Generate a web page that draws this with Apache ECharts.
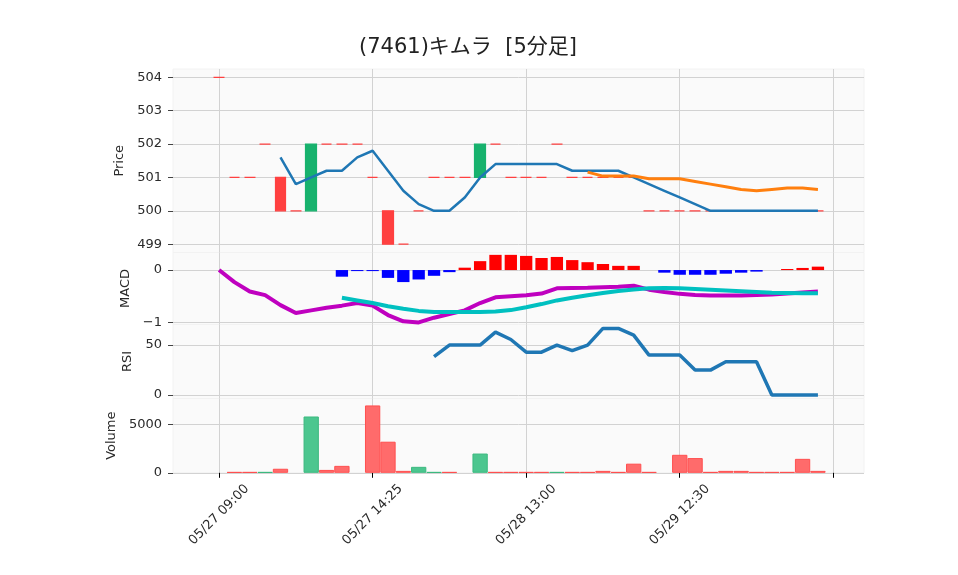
<!DOCTYPE html>
<html>
<head>
<meta charset="utf-8">
<script src="https://cdn.jsdelivr.net/npm/echarts@6/dist/echarts.min.js"></script>
<style>html,body{margin:0;padding:0;background:#fff}#c{width:958px;height:575px}</style>
</head>
<body>
<div id="c"></div>
<script>
// ---------------- data ----------------
const chartTitle = '(7461)キムラ  [5分足]';
const opens  = [504,501,501,502,501,500,500,502,502,502,501,500,499,500,501,501,501,501,502,501,501,501,502,501,501,501,501,501,500,500,500,500,500,500,500,500,500,500,500,500];
const closes = [504,501,501,502,500,500,502,502,502,502,501,499,499,500,501,501,501,502,502,501,501,501,502,501,501,501,501,501,500,500,500,500,500,500,500,500,500,500,500,500];
const highs  = [504,501,501,502,501,500,502,502,502,502,501,500,499,500,501,501,501,502,502,501,501,501,502,501,501,501,501,501,500,500,500,500,500,500,500,500,500,500,500,500];
const lows   = [504,501,501,502,500,500,500,502,502,502,501,499,499,500,501,501,501,501,502,501,501,501,502,501,501,501,501,501,500,500,500,500,500,500,500,500,500,500,500,500];
const volumes = [0,80,80,80,420,0,5850,300,720,0,7000,3230,200,620,80,80,0,2000,80,80,80,80,80,80,80,200,80,950,80,0,1870,1530,80,200,200,80,80,80,1450,200];

// moving averages (start index given)
const sma5Start = 4;
const sma5 = [501.6,500.8,501.0,501.2,501.2,501.6,501.8,501.2,500.6,500.2,500.0,500.0,500.4,501.0,501.4,501.4,501.4,501.4,501.4,501.2,501.2,501.2,501.2,501.0,500.8,500.6,500.4,500.2,500.0,500.0,500.0,500.0,500.0,500.0,500.0,500.0];
const sma25Start = 24;
const sma25 = [501.16,501.04,501.04,501.04,500.96,500.96,500.96,500.88,500.80,500.72,500.64,500.60,500.64,500.68,500.68,500.64];

// MACD
const macdStart = 0;
const macdLine = [0,-0.23,-0.41,-0.48,-0.67,-0.82,-0.77,-0.72,-0.68,-0.63,-0.68,-0.86,-0.98,-1.0,-0.91,-0.84,-0.77,-0.63,-0.52,-0.50,-0.48,-0.45,-0.35,-0.345,-0.34,-0.33,-0.32,-0.30,-0.375,-0.42,-0.455,-0.475,-0.485,-0.487,-0.485,-0.477,-0.465,-0.45,-0.43,-0.41];
const signalStart = 8;
const signalLine = [-0.53,-0.58,-0.63,-0.69,-0.74,-0.78,-0.80,-0.80,-0.80,-0.80,-0.79,-0.765,-0.71,-0.65,-0.58,-0.53,-0.48,-0.44,-0.40,-0.37,-0.35,-0.345,-0.35,-0.36,-0.375,-0.39,-0.405,-0.42,-0.435,-0.44,-0.445,-0.445];
const histStart = 8;
const histValues = [-0.127,-0.02,-0.02,-0.15,-0.23,-0.18,-0.11,-0.04,0.045,0.17,0.29,0.29,0.27,0.23,0.25,0.19,0.15,0.115,0.08,0.08,0,-0.05,-0.09,-0.09,-0.09,-0.07,-0.05,-0.03,0,0.02,0.04,0.065];

// RSI
const rsiStart = 14;
const rsiValues = [38.5,50,50,50,63,55.6,42.9,42.9,50,44.4,50,66.7,66.7,60,40,40,40,25,25,33.3,33.3,33.3,0,0,0,0];

// x tick labels (bar index -> label)
const tickPositions = [0,10,20,30,40];
const tickLabels = ['05/27 09:00','05/27 14:25','05/28 13:00','05/29 12:30',''];

// y ticks
const priceTicks = [499,500,501,502,503,504];
const macdTicks = [-1,0];
const rsiTicks = [0,50];
const volTicks = [0,5000];

// ---------------- layout / style ----------------
const X_FIRST = -3, X_LAST = 42;           // axis extent in bar units
const cats = [];
for (let k = X_FIRST; k <= X_LAST; k++) cats.push(String(k));
const NC = cats.length, OFF = -X_FIRST;

function place(values, start) {
  const out = new Array(NC).fill('-');
  values.forEach((v, j) => { out[OFF + start + j] = v; });
  return out;
}

const UP = '#17b26d', DOWN = '#ff4040';
const VUP = '#4cc68f', VUPB = '#3bb97f', VDN = '#ff6b6b', VDNB = '#ff4f4f';
const GRID = '#d2d2d2';
const TXT = '#2a2a2a';
const FONT = "'DejaVu Sans', 'Noto Sans CJK JP', sans-serif";

const candleData = new Array(NC).fill(null).map(() => ['-','-','-','-']);
opens.forEach((o, i) => {
  const item = { value: [o, closes[i], lows[i], highs[i]] };
  if (o === closes[i]) item.itemStyle = { color: DOWN, color0: DOWN, borderColor: DOWN, borderColor0: DOWN };
  candleData[OFF + i] = item;
});

const volData = new Array(NC).fill('-');
volumes.forEach((v, i) => {
  if (!v) return;
  const up = i > 0 && closes[i] > closes[i - 1];
  volData[OFF + i] = { value: v, itemStyle: { color: up ? VUP : VDN, borderColor: up ? VUPB : VDNB } };
});

const histData = new Array(NC).fill('-');
histValues.forEach((v, j) => {
  if (!v) return;
  histData[OFF + histStart + j] = { value: v, itemStyle: { color: v >= 0 ? '#ff0000' : '#0000ff' } };
});

const isTick = (idx, val) => tickPositions.indexOf(Number(val)) >= 0;

const grids = [
  { left: 173, right: 94, top: 69, height: 183.5 },
  { left: 173, right: 94, top: 252.5, height: 72 },
  { left: 173, right: 94, top: 324.5, height: 74 },
  { left: 173, right: 94, top: 398.5, height: 74.3 }
].map(g => Object.assign(g, { show: true, backgroundColor: '#fafafa', borderColor: '#f2f2f2', borderWidth: 1 }));

function mkX(gi, labels) {
  return {
    type: 'category', gridIndex: gi, data: cats, boundaryGap: false,
    axisLine: { show: false },
    axisTick: { show: labels, interval: isTick, length: 5, lineStyle: { color: '#000', width: 1 } },
    axisLabel: labels ? {
      show: true, interval: isTick, rotate: 45, align: 'center', verticalAlign: 'middle', margin: 42,
      fontSize: 13, color: TXT, fontFamily: FONT,
      formatter: v => { const p = tickPositions.indexOf(Number(v)); return p >= 0 ? tickLabels[p] : ''; }
    } : { show: false },
    splitLine: { show: true, interval: isTick, lineStyle: { color: GRID, width: 1 } }
  };
}

function mkY(gi, min, max, ticks, name, gap, fmt) {
  return {
    type: 'value', gridIndex: gi, min: min, max: max, scale: true,
    name: name, nameLocation: 'middle', nameGap: gap,
    nameTextStyle: { fontSize: 13, color: TXT, fontFamily: FONT },
    axisLine: { show: false },
    axisTick: { show: true, length: 5, customValues: ticks, lineStyle: { color: '#444' } },
    axisLabel: { show: true, customValues: ticks, margin: 11, fontSize: 13, color: TXT, fontFamily: FONT, formatter: fmt || (v => String(v)) },
    splitLine: { show: true, lineStyle: { color: GRID, width: 1 } }
  };
}

const minusFmt = v => (v < 0 ? '\u2212' + Math.abs(v) : String(v));

const option = {
  animation: false,
  backgroundColor: '#ffffff',
  textStyle: { fontFamily: FONT },
  title: {
    text: chartTitle, left: 463, top: 32, textAlign: 'center',
    textStyle: { fontSize: 21, fontWeight: 'normal', color: '#222', fontFamily: FONT }
  },
  grid: grids,
  xAxis: [mkX(0, false), mkX(1, false), mkX(2, false), mkX(3, true)],
  yAxis: [
    mkY(0, 498.75, 504.25, priceTicks, 'Price', 39),
    mkY(1, -1.04, 0.335, macdTicks, 'MACD', 29, minusFmt),
    mkY(2, -3.4, 70.6, rsiTicks, 'RSI', 30),
    mkY(3, 0, 7720, volTicks, 'Volume', 50)
  ],
  series: [
    {
      type: 'candlestick', xAxisIndex: 0, yAxisIndex: 0, data: candleData, barWidth: 11,
      itemStyle: { color: UP, color0: DOWN, borderColor: UP, borderColor0: DOWN, borderWidth: 1.2 }
    },
    { type: 'line', xAxisIndex: 0, yAxisIndex: 0, data: place(sma5, sma5Start), showSymbol: false, symbol: 'none',
      lineStyle: { color: '#1f77b4', width: 2.5 }, z: 3 },
    { type: 'line', xAxisIndex: 0, yAxisIndex: 0, data: place(sma25, sma25Start), showSymbol: false, symbol: 'none',
      lineStyle: { color: '#ff7f0e', width: 3 }, z: 3 },
    { type: 'bar', xAxisIndex: 1, yAxisIndex: 1, data: histData, barWidth: 12.3 },
    { type: 'line', xAxisIndex: 1, yAxisIndex: 1, data: place(macdLine, macdStart), showSymbol: false, symbol: 'none',
      lineStyle: { color: '#bf00bf', width: 4 }, z: 3 },
    { type: 'line', xAxisIndex: 1, yAxisIndex: 1, data: place(signalLine, signalStart), showSymbol: false, symbol: 'none',
      lineStyle: { color: '#00c0c0', width: 4 }, z: 4 },
    { type: 'line', xAxisIndex: 2, yAxisIndex: 2, data: place(rsiValues, rsiStart), showSymbol: false, symbol: 'none',
      lineStyle: { color: '#1f77b4', width: 3.5 }, z: 3 },
    { type: 'bar', xAxisIndex: 3, yAxisIndex: 3, data: volData, barWidth: 15.3,
      itemStyle: { borderWidth: 1 } }
  ]
};

const chart = echarts.init(document.getElementById('c'), null, { renderer: 'canvas' });
chart.setOption(option);
</script>
</body>
</html>
